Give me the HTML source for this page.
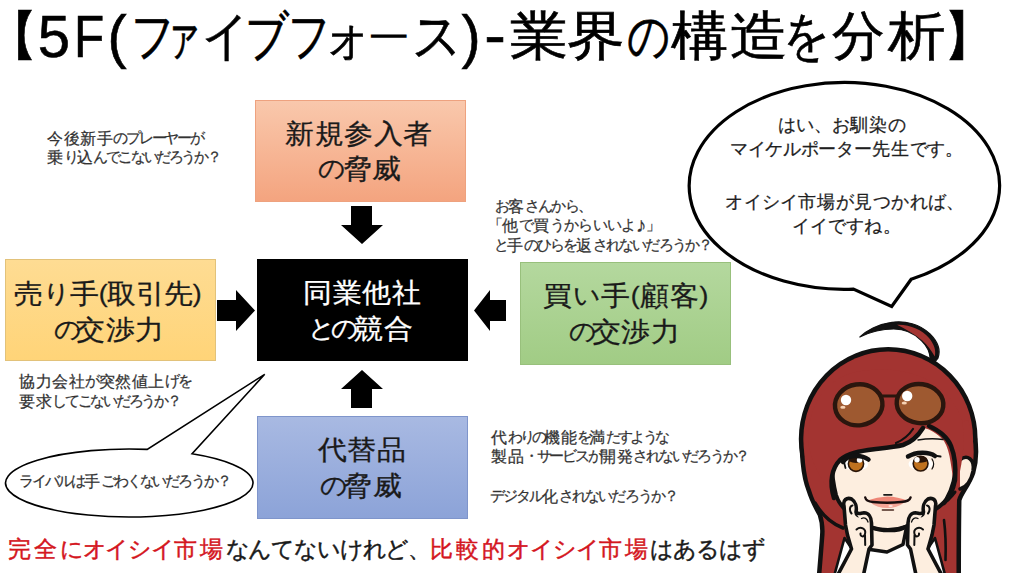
<!DOCTYPE html>
<html><head><meta charset="utf-8"><style>
html,body{margin:0;padding:0;background:#fff;width:1024px;height:576px;overflow:hidden;position:relative}
body{font-family:"Liberation Sans",sans-serif}
.box{position:absolute;box-sizing:border-box;border:1px solid}
.ov{position:absolute;left:0;top:0}
.t{position:absolute;white-space:nowrap}
.sb{-webkit-text-stroke:0.45px currentColor}
.sx{-webkit-text-stroke:0.3px currentColor;transform:scaleX(1.07);transform-origin:0 0}
.sy{-webkit-text-stroke:0.25px currentColor}
.tc{-webkit-text-stroke:0.6px #000;width:100px;text-align:center;font-size:53px;line-height:53px;color:#000}
</style></head><body>
<div class="box" style="left:255px;top:100px;width:211px;height:102px;background:linear-gradient(#f9c8ac,#f4a47f);border-color:#eea27f"></div>
<div class="box" style="left:5px;top:259px;width:211px;height:102px;background:linear-gradient(#fedc93,#ffd478);border-color:#e2c27a"></div>
<div class="box" style="left:257px;top:259px;width:211px;height:102px;background:#000;border-color:#000"></div>
<div class="box" style="left:520px;top:262px;width:211px;height:103px;background:linear-gradient(#b4d89e,#a1cc85);border-color:#98c07c"></div>
<div class="box" style="left:257px;top:416px;width:211px;height:103px;background:linear-gradient(#a8b9e2,#8ca3d8);border-color:#7f95cb"></div>
<svg class="ov" width="1024" height="576" viewBox="0 0 1024 576">
<polygon points="217,300 236,300 236,290 255,310.5 236,331 236,321 217,321" fill="#000"/>
<polygon points="506,300 490,300 490,290 474,310.5 490,331 490,321 506,321" fill="#000"/>
<polygon points="351,206 372,206 372,225 383,225 362,244 341,225 351,225" fill="#000"/>
<polygon points="351,408 372,408 372,389 383,389 362,370 341,389 351,389" fill="#000"/>
<path d="M 911.2 279.2 A 155.2 103.4 0 1 0 853.4 289.1 L 891.7 306.5 Z" fill="#fff" stroke="#000" stroke-width="3.2" stroke-linejoin="miter"/>
<path d="M 192.1 453.71 A 123.75 34 0 1 1 147.2 449.36 L 264.7 374.3 Z" fill="#fff" stroke="#000" stroke-width="1.6" stroke-linejoin="miter"/>
</svg>
<svg class="ov" width="1024" height="576" viewBox="0 0 1024 576">
<defs>
<clipPath id="cc"><rect x="780" y="300" width="244" height="273"/></clipPath>
<clipPath id="irl"><circle cx="856" cy="463.8" r="7.6"/></clipPath>
<clipPath id="irr"><circle cx="920.6" cy="463.6" r="7.4"/></clipPath>
<g id="hand">
<path d="M844.5 538 L852 549 L838 582 L832.5 582 Z" fill="#fff" stroke="#111" stroke-width="2.6"/>
<path d="M834 582 L851.5 549 L847.5 535 L845.5 525 L844 506 C842.5 500 847 497 851.5 499 C855.5 501.5 857 507 856 512 C858.5 515 860.5 513 864 512.8 C868.5 513 871.5 517 871.5 523 L872 545 L869 549 L862 582 Z" fill="#fdeedf" stroke="#111" stroke-width="3.6"/>
<path d="M851.5 513.5 C849 510.5 849.5 506 852.5 505.5" fill="none" stroke="#111" stroke-width="2"/>
<path d="M855.5 511 C856.5 514 857.5 516 859 517.5 C857 517.5 855.5 516 854.5 514 Z" fill="#111"/>
<path d="M856.5 529.5 C860.5 526 866.5 528.5 865 534 C864 537.5 860 537 860.5 533.5 M865 535 L865.2 545" fill="none" stroke="#111" stroke-width="2"/>
<path d="M861.5 518.5 C864.5 517 867 518.5 868 522" fill="none" stroke="#111" stroke-width="1.3"/>
</g>
</defs>
<g clip-path="url(#cc)" stroke-linejoin="round" stroke-linecap="round">
<!-- back hair: stroked then filled -->
<g id="bh" fill="#a33431" stroke="#111" stroke-width="9">
<ellipse cx="888.2" cy="439" rx="84.9" ry="87.5"/>
<path d="M805 430 C803 450 805 475 811 490 C814 500 818 507 822 514 C824 520 825 528 824.5 535 C823.5 550 822 565 821 580 L848 580 L848 440 Z"/>
<path d="M968 420 C975 440 975 458 971 472 C967 484 959 492 957 500 C956.5 530 956.5 555 956.5 580 L925 580 L930 430 Z"/>
</g>
<g fill="#a33431" stroke="none">
<ellipse cx="888.2" cy="439" rx="84.9" ry="87.5"/>
<path d="M805 430 C803 450 805 475 811 490 C814 500 818 507 822 514 C824 520 825 528 824.5 535 C823.5 550 822 565 821 580 L848 580 L848 440 Z"/>
<path d="M968 420 C975 440 975 458 971 472 C967 484 959 492 957 500 C956.5 530 956.5 555 956.5 580 L925 580 L930 430 Z"/>
</g>
<!-- hair inner lines -->
<path d="M815 503 C822 515 830 523 843 528" fill="none" stroke="#111" stroke-width="3.5"/>
<path d="M944 520 C945.5 532 946 545 945.5 560" fill="none" stroke="#111" stroke-width="2.6"/>
<path d="M955 492 C952 496 950 498 948 500" fill="none" stroke="#111" stroke-width="3"/>
<!-- ear -->
<path d="M960 460 C967 454 975 459 973 471 C971 481 966 487 960 489" fill="#fdeedf" stroke="#111" stroke-width="3.5"/>
<!-- shirt -->
<path d="M864 548 L913 544 L920 580 L860 580 Z" fill="#fff" stroke="none"/>
<!-- neck -->
<path d="M869 520 L870 549.5 L887 552 L903 544.5 L908 520 Z" fill="#fdeedf" stroke="#111" stroke-width="3.5"/>
<!-- face -->
<path d="M833 430 C830 450 831 475 836 495 C840 508 852 518 871 527.4 C880 531 898 532 906.3 526.5 C925 516 940 508 946 500 C952 490 956 475 956 460 C956 445 950 432 940 424 L880 418 Z" fill="#fdeedf" stroke="#111" stroke-width="4"/>
<!-- bangs -->
<path d="M808 440 C809 400 830 372 870 370 C915 366 950 385 962 420 C966 440 962 470 955 490 C951 470 951 452 944 441 C937 433 930 429 923 428 C918 436 912 442 903 445 C895 447 885 448 874 449.3 C860 451 848 453 840 460 C832 468 829 482 834 498 C822 480 810 462 808 440 Z" fill="#a33431" stroke="none"/>
<path d="M834 498 C829 482 832 468 840 460 C848 453 860 451 874 449.3 C885 448 895 447 903 445 C912 442 918 436 923 428" fill="none" stroke="#111" stroke-width="4.5"/>
<path d="M929 426 C940 431 948 438 951 446 C955 456 956 468 955 480 C953 490 949 498 944 503" fill="none" stroke="#111" stroke-width="4.5"/>
<path d="M896 443 C903 440 909 435 913 429" fill="none" stroke="#111" stroke-width="2.2"/>
<path d="M918 440 C927 438.5 936 438.5 943 439.5" fill="none" stroke="#111" stroke-width="1.4"/>
<!-- ahoge -->
<path d="M859.9 337 C866 331 878 324 892 322.3 C905 320.5 920 324 930 334 C937 341 941 350 938 358 L934.5 362.3 L930.2 359 C930 352 926 345 921.6 340.8 C915 334 905 329 893.7 329 C882 329 870 332 859.9 337 Z" fill="#111" stroke="#111" stroke-width="1.2"/>
<path d="M897 324.8 C910 324.3 922 330 928.8 337.8 C934 344 936.2 350 934.8 356.5 C931.5 350.5 927.5 345 922 340.2 C915 334.2 906 329.5 897 324.8 Z" fill="#a33431"/>
<!-- sunglasses -->
<g stroke="#2a160e" stroke-width="4.4" fill="#9e5930">
<ellipse cx="858.7" cy="404.8" rx="23.8" ry="20.5" transform="rotate(-8 858.7 404.8)"/>
<ellipse cx="920" cy="403.6" rx="23.4" ry="19.5" transform="rotate(8 920 403.6)"/>
</g>
<path d="M882 396 L897 396" stroke="#2a160e" stroke-width="3.2"/>
<circle cx="846" cy="400" r="5.2" fill="#fff"/>
<circle cx="907.2" cy="396" r="5.2" fill="#fff"/>
<ellipse cx="842.9" cy="407.2" rx="2.6" ry="1.5" fill="#f6d2b4"/>
<ellipse cx="904.3" cy="403" rx="2.6" ry="1.5" fill="#f6d2b4"/>
<!-- eyes -->
<ellipse cx="856" cy="464.5" rx="12" ry="6.5" fill="#fff"/>
<ellipse cx="920.6" cy="464" rx="12" ry="6.5" fill="#fff"/>
<circle cx="856" cy="463.8" r="7.6" fill="#c0721f" stroke="#2a1508" stroke-width="1.6"/>
<circle cx="920.6" cy="463.6" r="7.4" fill="#c0721f" stroke="#2a1508" stroke-width="1.6"/>
<ellipse cx="856" cy="458" rx="9" ry="5" fill="#2a1508" clip-path="url(#irl)"/>
<ellipse cx="920.6" cy="457.8" rx="9" ry="5" fill="#2a1508" clip-path="url(#irr)"/>
<circle cx="859.6" cy="460" r="2.8" fill="#fff"/>
<circle cx="917" cy="459.8" r="2.7" fill="#fff"/>
<path d="M843 462 C847 455.5 860 453.5 868.5 459.5" fill="none" stroke="#111" stroke-width="4.5"/>
<path d="M908 456.5 C916 451.5 929 451.5 935 456" fill="none" stroke="#111" stroke-width="4.5"/>
<path d="M934 455.5 L940.5 456.5" fill="none" stroke="#111" stroke-width="2"/>
<path d="M844 462 L845.5 468" fill="none" stroke="#111" stroke-width="1.8"/>
<path d="M932 459 C934 462 934 466 932 469" fill="none" stroke="#111" stroke-width="1.2"/>
<!-- nose -->
<path d="M884 494.8 L891.7 494.8" stroke="#1a1a1a" stroke-width="1.8"/>
<!-- mouth -->
<path d="M871 503 Q887 501.5 903.7 503 Q897 508 887.3 508 Q877 508 871 503 Z" fill="#f4a596"/>
<path d="M867 500.6 Q877 496.8 887.3 496.5 Q898 496.8 907.6 500.6 Q887 503.5 867 500.6 Z" fill="#ee8676"/>
<ellipse cx="890.6" cy="506" rx="2.2" ry="0.9" fill="#fde4dc"/>
<path d="M865.2 497.4 Q866 501.6 873 502 Q887.3 503.6 901 502 Q909.5 501.6 910.6 497.4" fill="none" stroke="#1a0d0d" stroke-width="2.4"/>
<path d="M882.4 510 L893.4 510" stroke="#4a2a20" stroke-width="1.6"/>
<!-- chin line -->
<path d="M871.4 527.4 Q889.7 533 906.3 526.5" fill="none" stroke="#111" stroke-width="4"/>
<!-- hands -->
<use href="#hand"/>
<use href="#hand" transform="translate(1779.5,0) scale(-1,1)"/>
</g>
</svg>
<div class="t sy" id="t1a" style="left:47.40px;top:129.95px;font-size:16px;line-height:16px;color:#333333"><span style="letter-spacing:0.50px">今後新手</span><span style="letter-spacing:-2.25px;font-size:0.92em;vertical-align:0.04em">のプレーヤーが</span></div>
<div class="t sy" id="t1b" style="left:47.40px;top:149.30px;font-size:16px;line-height:16px;color:#333333"><span style="letter-spacing:0.50px">乗</span><span style="letter-spacing:-2.37px;font-size:0.92em;vertical-align:0.04em">り</span><span style="letter-spacing:0.50px">込</span><span style="letter-spacing:-2.37px;font-size:0.92em;vertical-align:0.04em">んでこないだろうか？</span></div>
<div class="t sy" id="t2a" style="left:495.20px;top:198.25px;font-size:16px;line-height:16px;color:#333333"><span style="letter-spacing:-1.76px;font-size:0.92em;vertical-align:0.04em">お</span><span style="letter-spacing:0.50px">客</span><span style="letter-spacing:-1.76px;font-size:0.92em;vertical-align:0.04em">さんから、</span></div>
<div class="t sy" id="t2b" style="left:488.00px;top:217.25px;font-size:16px;line-height:16px;color:#333333"><span style="letter-spacing:-0.67px;font-size:0.92em;vertical-align:0.04em">「</span><span style="letter-spacing:0.50px">他</span><span style="letter-spacing:-0.67px;font-size:0.92em;vertical-align:0.04em">で</span><span style="letter-spacing:0.50px">買</span><span style="letter-spacing:-0.67px;font-size:0.92em;vertical-align:0.04em">うからいいよ<span style="font-size:1.45em;line-height:0;vertical-align:-0.08em">♪</span>」</span></div>
<div class="t sy" id="t2c" style="left:494.20px;top:236.65px;font-size:16px;line-height:16px;color:#333333"><span style="letter-spacing:-1.87px;font-size:0.92em;vertical-align:0.04em">と</span><span style="letter-spacing:0.50px">手</span><span style="letter-spacing:-1.87px;font-size:0.92em;vertical-align:0.04em">のひらを</span><span style="letter-spacing:0.50px">返</span><span style="letter-spacing:-1.87px;font-size:0.92em;vertical-align:0.04em">されないだろうか？</span></div>
<div class="t sy" id="t3a" style="left:19.00px;top:372.70px;font-size:16px;line-height:16px;color:#333333"><span style="letter-spacing:0.50px">協力会社</span><span style="letter-spacing:-1.50px;font-size:0.92em;vertical-align:0.04em">が</span><span style="letter-spacing:0.50px">突然値上</span><span style="letter-spacing:-1.50px;font-size:0.92em;vertical-align:0.04em">げを</span></div>
<div class="t sy" id="t3b" style="left:19.00px;top:393.10px;font-size:16px;line-height:16px;color:#333333"><span style="letter-spacing:0.50px">要求</span><span style="letter-spacing:-2.22px;font-size:0.92em;vertical-align:0.04em">してこないだろうか？</span></div>
<div class="t sy" id="t4a" style="left:491.00px;top:429.00px;font-size:16px;line-height:16px;color:#333333"><span style="letter-spacing:0.50px">代</span><span style="letter-spacing:-2.76px;font-size:0.92em;vertical-align:0.04em">わりの</span><span style="letter-spacing:0.50px">機能</span><span style="letter-spacing:-2.76px;font-size:0.92em;vertical-align:0.04em">を</span><span style="letter-spacing:0.50px">満</span><span style="letter-spacing:-2.76px;font-size:0.92em;vertical-align:0.04em">たすような</span></div>
<div class="t sy" id="t4b" style="left:491.00px;top:448.45px;font-size:16px;line-height:16px;color:#333333"><span style="letter-spacing:0.50px">製品</span><span style="letter-spacing:-2.27px;font-size:0.92em;vertical-align:0.04em">・サービスが</span><span style="letter-spacing:0.50px">開発</span><span style="letter-spacing:-2.27px;font-size:0.92em;vertical-align:0.04em">されないだろうか？</span></div>
<div class="t sy" id="t4c" style="left:490.00px;top:488.05px;font-size:16px;line-height:16px;color:#333333"><span style="letter-spacing:-1.88px;font-size:0.92em;vertical-align:0.04em">デジタル</span><span style="letter-spacing:0.50px">化</span><span style="letter-spacing:-1.88px;font-size:0.92em;vertical-align:0.04em">されないだろうか？</span></div>
<div class="t sy" id="t5" style="left:19.40px;top:472.90px;font-size:16px;line-height:16px;color:#333333"><span style="letter-spacing:-2.05px;font-size:0.92em;vertical-align:0.04em">ライバルは</span><span style="letter-spacing:0.50px">手</span><span style="letter-spacing:-2.05px;font-size:0.92em;vertical-align:0.04em">ごわくないだろうか？</span></div>
<div class="t sy" id="b1" style="left:778.40px;top:116.65px;font-size:17.5px;line-height:17.5px;color:#1e1e1e"><span style="letter-spacing:0.00px">はい、お</span><span style="letter-spacing:1.00px">馴染</span><span style="letter-spacing:0.00px">の</span></div>
<div class="t sy" id="b2" style="left:730.00px;top:141.45px;font-size:17.5px;line-height:17.5px;color:#1e1e1e"><span style="letter-spacing:-0.31px">マイケルポーター</span><span style="letter-spacing:1.00px">先生</span><span style="letter-spacing:-0.31px">です。</span></div>
<div class="t sy" id="b3" style="left:725.40px;top:193.75px;font-size:17.5px;line-height:17.5px;color:#1e1e1e"><span style="letter-spacing:0.16px">オイシイ</span><span style="letter-spacing:1.00px">市場</span><span style="letter-spacing:0.16px">が</span><span style="letter-spacing:1.00px">見</span><span style="letter-spacing:0.16px">つかれば、</span></div>
<div class="t sy" id="b4" style="left:791.60px;top:218.15px;font-size:17.5px;line-height:17.5px;color:#1e1e1e"><span style="letter-spacing:0.22px">イイですね。</span></div>
<div class="t sx" id="x1a" style="left:285.20px;top:120.62px;font-size:27px;line-height:27px;color:#1a1a1a"><span style="letter-spacing:0.63px">新規参入者</span></div>
<div class="t sx" id="x1b" style="left:318.00px;top:155.40px;font-size:27px;line-height:27px;color:#1a1a1a"><span style="letter-spacing:-2.90px;font-size:0.92em;vertical-align:0.04em">の</span><span style="letter-spacing:0.70px">脅威</span></div>
<div class="t sx" id="x2a" style="left:14.00px;top:279.50px;font-size:27px;line-height:27px;color:#1a1a1a"><span style="letter-spacing:-0.31px">売</span><span style="letter-spacing:-0.31px;font-size:0.92em;vertical-align:0.04em">り</span><span style="letter-spacing:-0.31px">手</span><span style="letter-spacing:-0.31px;font-size:0.92em;vertical-align:0.04em">(</span><span style="letter-spacing:-0.31px">取引先</span><span style="letter-spacing:-0.31px;font-size:0.92em;vertical-align:0.04em">)</span></div>
<div class="t sx" id="x2b" style="left:54.20px;top:315.60px;font-size:27px;line-height:27px;color:#1a1a1a"><span style="letter-spacing:-5.50px;font-size:0.92em;vertical-align:0.04em">の</span><span style="letter-spacing:0.70px">交渉力</span></div>
<div class="t sx" id="x3a" style="left:303.20px;top:280.40px;font-size:27px;line-height:27px;color:#ffffff"><span style="letter-spacing:0.70px">同業他社</span></div>
<div class="t sx" id="x3b" style="left:308.00px;top:314.60px;font-size:27px;line-height:27px;color:#ffffff"><span style="letter-spacing:-4.40px;font-size:0.92em;vertical-align:0.04em">との</span><span style="letter-spacing:0.70px">競合</span></div>
<div class="t sx" id="x4a" style="left:542.60px;top:282.10px;font-size:27px;line-height:27px;color:#1a1a1a"><span style="letter-spacing:0.65px">買</span><span style="letter-spacing:0.65px;font-size:0.92em;vertical-align:0.04em">い</span><span style="letter-spacing:0.65px">手</span><span style="letter-spacing:0.65px;font-size:0.92em;vertical-align:0.04em">(</span><span style="letter-spacing:0.65px">顧客</span><span style="letter-spacing:0.65px;font-size:0.92em;vertical-align:0.04em">)</span></div>
<div class="t sx" id="x4b" style="left:569.20px;top:318.20px;font-size:27px;line-height:27px;color:#1a1a1a"><span style="letter-spacing:-4.90px;font-size:0.92em;vertical-align:0.04em">の</span><span style="letter-spacing:0.70px">交渉力</span></div>
<div class="t sx" id="x5a" style="left:317.60px;top:436.85px;font-size:27px;line-height:27px;color:#1a1a1a"><span style="letter-spacing:0.50px">代替品</span></div>
<div class="t sx" id="x5b" style="left:320.20px;top:472.30px;font-size:27px;line-height:27px;color:#1a1a1a"><span style="letter-spacing:-4.20px;font-size:0.92em;vertical-align:0.04em">の</span><span style="letter-spacing:0.70px">脅威</span></div>
<div class="t sb" id="bt" style="left:8.20px;top:537.85px;font-size:23px;line-height:23px"><span style="color:#d4161e;letter-spacing:2.80px">完全</span><span style="color:#d4161e;letter-spacing:-1.17px">にオイシイ</span><span style="color:#d4161e;letter-spacing:2.80px">市場</span><span style="color:#1a1a1a;letter-spacing:-1.17px">なんてないけれど、</span><span style="color:#d4161e;letter-spacing:2.80px">比較的</span><span style="color:#d4161e;letter-spacing:-1.17px">オイシイ</span><span style="color:#d4161e;letter-spacing:2.80px">市場</span><span style="color:#1a1a1a;letter-spacing:-1.17px">はあるはず</span></div>
<div class="t tc" id="c0" style="left:-38.00px;top:8.77px;font-size:53px;line-height:53px;transform:scale(1.005,1.000)">【</div><div class="t tc" id="c1" style="left:3.50px;top:6.80px;font-size:60px;line-height:60px;transform:scale(0.968,1.000)">5</div><div class="t tc" id="c2" style="left:39.00px;top:6.80px;font-size:60px;line-height:60px;transform:scale(0.824,1.000)">F</div><div class="t tc" id="c3" style="left:66.50px;top:6.80px;font-size:60px;line-height:60px;transform:scale(0.960,1.000)">(</div><div class="t tc" id="c4" style="left:103.10px;top:8.77px;font-size:53px;line-height:53px;transform:scale(0.814,1.000)">フ</div><div class="t tc" id="c5" style="left:132.70px;top:8.77px;font-size:53px;line-height:53px;transform:scale(0.666,1.000)">ァ</div><div class="t tc" id="c6" style="left:176.00px;top:8.77px;font-size:53px;line-height:53px;transform:scale(0.873,1.000)">イ</div><div class="t tc" id="c7" style="left:217.00px;top:8.77px;font-size:53px;line-height:53px;transform:scale(0.817,1.000)">ブ</div><div class="t tc" id="c8" style="left:258.80px;top:8.77px;font-size:53px;line-height:53px;transform:scale(0.794,1.000)">フ</div><div class="t tc" id="c9" style="left:297.90px;top:8.77px;font-size:53px;line-height:53px;transform:scale(0.908,1.000)">ォ</div><div class="t tc" id="c10" style="left:339.40px;top:11.12px;font-size:53px;line-height:53px;transform:scale(0.820,0.585);-webkit-text-stroke:0">ー</div><div class="t tc" id="c11" style="left:386.60px;top:8.77px;font-size:53px;line-height:53px;transform:scale(0.922,1.000)">ス</div><div class="t tc" id="c12" style="left:420.75px;top:6.80px;font-size:60px;line-height:60px;transform:scale(0.956,1.000)">)</div><div class="t tc" id="c13" style="left:445.00px;top:4.67px;font-size:60px;line-height:60px;transform:scale(1.080,1.029)">-</div><div class="t tc" id="c14" style="left:488.60px;top:8.77px;font-size:53px;line-height:53px;transform:scale(1.097,1.000)">業</div><div class="t tc" id="c15" style="left:546.10px;top:8.77px;font-size:53px;line-height:53px;transform:scale(1.091,1.000)">界</div><div class="t tc" id="c16" style="left:598.70px;top:8.77px;font-size:53px;line-height:53px;transform:scale(0.803,1.000)">の</div><div class="t tc" id="c17" style="left:650.00px;top:8.77px;font-size:53px;line-height:53px;transform:scale(1.078,1.000)">構</div><div class="t tc" id="c18" style="left:708.90px;top:8.77px;font-size:53px;line-height:53px;transform:scale(1.090,1.000)">造</div><div class="t tc" id="c19" style="left:756.50px;top:8.77px;font-size:53px;line-height:53px;transform:scale(0.874,1.000)">を</div><div class="t tc" id="c20" style="left:807.80px;top:8.77px;font-size:53px;line-height:53px;transform:scale(0.994,1.000)">分</div><div class="t tc" id="c21" style="left:866.90px;top:8.77px;font-size:53px;line-height:53px;transform:scale(1.085,1.000)">析</div><div class="t tc" id="c22" style="left:920.40px;top:8.77px;font-size:53px;line-height:53px;transform:scale(1.005,1.000)">】</div>
</body></html>
